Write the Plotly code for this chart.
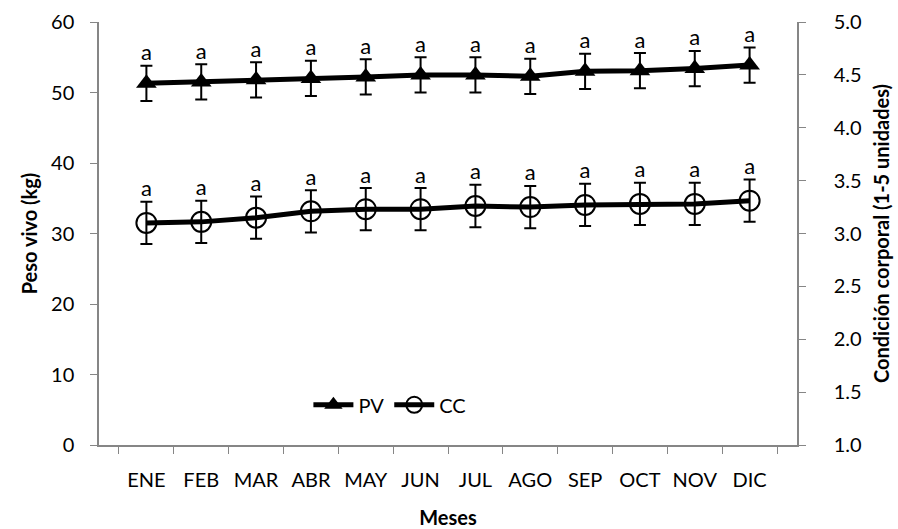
import plotly.graph_objects as go

meses = ["ENE", "FEB", "MAR", "ABR", "MAY", "JUN", "JUL", "AGO", "SEP", "OCT", "NOV", "DIC"]
pv = [51.3, 51.5, 51.8, 52.0, 52.2, 52.5, 52.5, 52.3, 53.0, 53.1, 53.4, 53.9]
pv_err = [2.5, 2.5, 2.5, 2.5, 2.5, 2.5, 2.5, 2.5, 2.5, 2.5, 2.5, 2.5]
cc = [3.10, 3.11, 3.15, 3.21, 3.23, 3.23, 3.26, 3.25, 3.27, 3.28, 3.28, 3.31]
cc_err = [0.2, 0.2, 0.2, 0.2, 0.2, 0.2, 0.2, 0.2, 0.2, 0.2, 0.2, 0.2]
letras_pv = ["a"] * 12
letras_cc = ["a"] * 12

FONT = "Lato"
AX = "#868686"
TS = 20

fig = go.Figure()
fig.add_trace(go.Scatter(
    x=meses, y=pv, name="PV", mode="lines+markers",
    line=dict(color="black", width=5),
    marker=dict(symbol="triangle-up", size=18, color="black"),
    error_y=dict(type="data", array=pv_err, color="black", thickness=2, width=6),
))
fig.add_trace(go.Scatter(
    x=meses, y=cc, name="CC", mode="lines+markers", yaxis="y2",
    line=dict(color="black", width=5),
    marker=dict(symbol="circle-open", size=20, color="black", line=dict(width=2)),
    error_y=dict(type="data", array=cc_err, color="black", thickness=2, width=6),
))
fig.add_trace(go.Scatter(
    x=meses, y=[v + e for v, e in zip(pv, pv_err)], mode="text", text=letras_pv,
    textposition="top center", textfont=dict(size=22, color="black", family=FONT),
    showlegend=False, hoverinfo="skip",
))
fig.add_trace(go.Scatter(
    x=meses, y=[v + e for v, e in zip(cc, cc_err)], mode="text", text=letras_cc, yaxis="y2",
    textposition="top center", textfont=dict(size=22, color="black", family=FONT),
    showlegend=False, hoverinfo="skip",
))

fig.update_layout(
    width=898, height=529,
    margin=dict(l=99, r=101, t=22, b=84, autoexpand=False),
    paper_bgcolor="white", plot_bgcolor="white",
    font=dict(family=FONT, size=TS, color="black"),
    showlegend=True,
    legend=dict(orientation="h", x=0.3, y=0.095, xanchor="left", yanchor="middle",
                bgcolor="rgba(0,0,0,0)", font=dict(size=TS), itemwidth=40,
                tracegroupgap=0),
    xaxis=dict(
        type="category", showline=True, linecolor=AX, linewidth=1.5,
        ticks="outside", tickson="boundaries", ticklen=7, tickcolor=AX,
        showgrid=False, zeroline=False, ticklabelstandoff=16, automargin=False,
        title=dict(text="<b>Meses</b>", font=dict(size=TS), standoff=26),
        tickfont=dict(size=TS),
    ),
    yaxis=dict(
        range=[0, 60], dtick=10, showline=True, linecolor=AX, linewidth=1.5,
        ticks="outside", ticklen=7, tickcolor=AX, showgrid=False, zeroline=False,
        ticklabelstandoff=12, automargin=False,
        title=dict(text="<b>Peso vivo (kg)</b>", font=dict(size=TS), standoff=8),
        tickfont=dict(size=TS),
    ),
    yaxis2=dict(
        range=[1, 5], dtick=0.5, tickformat=".1f", overlaying="y", side="right",
        showline=True, linecolor=AX, linewidth=1.5, ticklabelstandoff=24,
        ticks="outside", ticklen=7, tickcolor=AX, showgrid=False, zeroline=False,
        automargin=False,
        title=dict(text="<b>Condición corporal (1-5 unidades)</b>", font=dict(size=TS), standoff=14),
        tickfont=dict(size=TS),
    ),
)

fig.write_html("out.html")
